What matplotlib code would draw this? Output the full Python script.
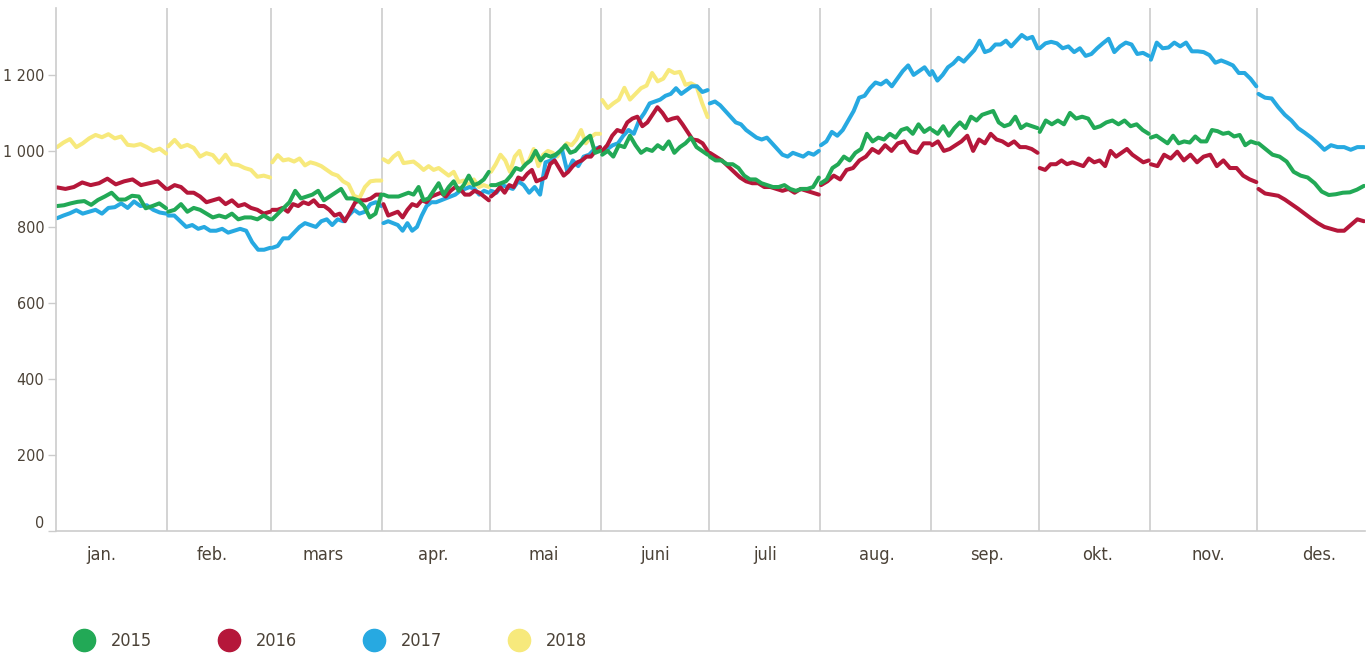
import numpy as np
import matplotlib
matplotlib.use("Agg")
import matplotlib.pyplot as plt
import matplotlib.transforms as mtransforms
from matplotlib.lines import Line2D

plt.rcParams['font.family'] = ['DejaVu Sans']
plt.rcParams['font.stretch'] = 'condensed'

# month labels and days (leap-year calendar, axis cut at day 365)
months = ["jan.", "feb.", "mars", "apr.", "mai", "juni",
          "juli", "aug.", "sep.", "okt.", "nov.", "des."]
days = [31, 29, 31, 30, 31, 30, 31, 31, 30, 31, 30, 31]

years = ["2015", "2016", "2017", "2018"]
colors = ["#22a956", "#b5173a", "#27a9e1", "#f7e97c"]

# values, one list per month
y2015 = [
    [855, 857, 862, 866, 868, 858, 871, 880, 890, 872, 872, 882, 880, 849, 855, 862, 849],
    [840, 845, 860, 840, 850, 845, 835, 825, 830, 825, 835, 820, 825, 825, 820, 830, 820],
    [820, 835, 850, 865, 895, 875, 880, 885, 895, 870, 880, 890, 900, 875, 875, 870, 855, 825, 835, 885],
    [885, 880, 880, 880, 885, 890, 885, 905, 870, 875, 895, 915, 885, 905, 920, 895, 910, 935, 910, 915, 925, 945],
    [910, 910, 915, 920, 935, 955, 950, 965, 975, 1000, 975, 990, 985, 990, 1000, 1015, 995, 1000, 1015, 1030, 1040, 995, 1000],
    [990, 1000, 985, 1015, 1010, 1040, 1015, 995, 1005, 1000, 1015, 1005, 1025, 995, 1010, 1020, 1035, 1010, 1000, 990],
    [985, 975, 975, 965, 965, 955, 935, 925, 925, 915, 910, 905, 905, 910, 900, 895, 900, 900, 905, 930],
    [915, 925, 955, 965, 985, 975, 995, 1005, 1045, 1025, 1035, 1030, 1045, 1035, 1055, 1060, 1045, 1070, 1050, 1060],
    [1055, 1045, 1065, 1040, 1060, 1075, 1060, 1090, 1080, 1095, 1100, 1105, 1075, 1065, 1070, 1090, 1060, 1070, 1065, 1060],
    [1050, 1080, 1070, 1080, 1070, 1100, 1085, 1090, 1085, 1060, 1065, 1075, 1080, 1070, 1080, 1065, 1070, 1055, 1045],
    [1035, 1040, 1030, 1020, 1040, 1020, 1025, 1022, 1038, 1025, 1025, 1055, 1052, 1045, 1048, 1038, 1042, 1015, 1025, 1020],
    [1020, 1005, 990, 985, 972, 945, 935, 930, 915, 893, 884, 886, 890, 891, 898, 908],
]
y2016 = [
    [904, 900, 905, 917, 910, 915, 927, 912, 920, 925, 910, 915, 920, 900],
    [900, 910, 905, 890, 890, 880, 865, 870, 875, 860, 870, 855, 860, 850, 845, 835, 840],
    [845, 845, 850, 840, 860, 855, 865, 860, 870, 855, 855, 845, 830, 835, 815, 840, 865, 870, 870, 875, 885, 885],
    [860, 830, 835, 840, 825, 845, 860, 855, 870, 865, 880, 885, 890, 880, 895, 905, 900, 885, 885, 895, 890, 880, 870],
    [880, 890, 905, 890, 910, 905, 930, 925, 940, 950, 920, 925, 930, 965, 975, 955, 935, 945, 960, 970, 975, 985, 985, 1000, 1010],
    [1000, 1015, 1040, 1055, 1050, 1075, 1085, 1090, 1065, 1075, 1095, 1115, 1100, 1080, 1085, 1088, 1070, 1050, 1030, 1028, 1020, 1000],
    [995, 985, 975, 960, 945, 930, 920, 915, 915, 905, 905, 900, 895, 900, 890, 900, 895, 890, 885],
    [910, 920, 935, 925, 950, 955, 975, 985, 1005, 995, 1015, 1000, 1020, 1025, 1000, 995, 1020, 1020],
    [1015, 1025, 1000, 1005, 1015, 1025, 1040, 1000, 1030, 1020, 1045, 1030, 1025, 1015, 1025, 1010, 1010, 1005, 995],
    [955, 950, 965, 965, 975, 965, 970, 965, 960, 980, 970, 975, 960, 1000, 985, 995, 1005, 990, 980, 970, 975],
    [965, 960, 990, 980, 998, 975, 990, 970, 985, 990, 960, 975, 955, 955, 935, 925, 918],
    [900, 888, 885, 882, 872, 860, 848, 835, 822, 810, 800, 795, 790, 790, 805, 820, 815],
]
y2017 = [
    [823, 830, 836, 844, 835, 840, 845, 835, 850, 852, 862, 850, 867, 855, 857, 845, 838, 835],
    [830, 830, 815, 800, 805, 795, 800, 790, 790, 795, 785, 790, 795, 790, 760, 740, 740, 745],
    [745, 750, 770, 770, 785, 800, 810, 805, 800, 815, 820, 805, 820, 815, 830, 845, 835, 840, 860, 865, 855],
    [810, 815, 810, 805, 790, 810, 790, 800, 830, 855, 865, 865, 870, 875, 880, 885, 895, 900, 905, 900, 885, 895, 890],
    [895, 890, 910, 905, 900, 920, 910, 890, 905, 885, 970, 975, 990, 1005, 945, 975, 960, 985, 990, 1005, 1010],
    [1000, 1005, 1015, 1020, 1040, 1055, 1045, 1080, 1100, 1125, 1130, 1135, 1145, 1150, 1165, 1150, 1160, 1170, 1170, 1155, 1160],
    [1125, 1130, 1120, 1105, 1090, 1075, 1070, 1055, 1045, 1035, 1030, 1035, 1020, 1005, 990, 985, 995, 990, 985, 995, 990, 1000],
    [1015, 1025, 1050, 1040, 1055, 1080, 1105, 1140, 1145, 1165, 1180, 1175, 1185, 1170, 1190, 1210, 1225, 1200, 1210, 1220, 1200],
    [1210, 1185, 1200, 1220, 1230, 1245, 1235, 1250, 1265, 1290, 1260, 1265, 1280, 1280, 1290, 1275, 1290, 1305, 1295, 1300, 1270],
    [1270, 1283, 1287, 1283, 1270, 1275, 1260, 1270, 1250, 1255, 1270, 1283, 1295, 1260, 1275, 1285, 1280, 1255, 1258, 1250],
    [1240, 1285, 1270, 1272, 1285, 1275, 1285, 1262, 1262, 1260, 1252, 1232, 1238, 1232, 1225, 1205, 1205, 1190, 1170],
    [1150, 1140, 1138, 1115, 1095, 1080, 1060, 1048, 1035, 1020, 1003, 1015, 1010, 1010, 1003, 1010, 1010],
]
y2018 = [
    [1010, 1022, 1031, 1010, 1020, 1033, 1042, 1036, 1044, 1033, 1038, 1016, 1014, 1018, 1010, 1000, 1006, 993],
    [1012, 1029, 1010, 1016, 1008, 985, 994, 989, 969, 990, 965, 963, 955, 950, 932, 935, 930],
    [970, 989, 975, 978, 972, 980, 962, 970, 966, 960, 950, 940, 935, 920, 912, 882, 876, 905, 920, 922, 922],
    [978, 970, 985, 995, 968, 970, 972, 962, 950, 960, 950, 955, 945, 935, 945, 918, 922, 911, 925, 905, 910, 905],
    [945, 965, 990, 975, 945, 985, 1000, 960, 975, 1005, 960, 990, 1000, 995, 985, 1005, 1020, 1015, 1030, 1055, 1020, 1035, 1045, 1045],
    [1134, 1113, 1125, 1135, 1166, 1135, 1150, 1165, 1172, 1205, 1183, 1190, 1213, 1205, 1208, 1174, 1178, 1170, 1126, 1089],
]
series = [y2015, y2016, y2017, y2018]

text_col = "#4b4237"
grid_col = "#cccccc"

fig = plt.figure(figsize=(13.71, 6.55), dpi=100)
ax = fig.add_axes([56 / 1371, 1 - 531 / 655, 1309 / 1371, 523 / 655])

starts = np.concatenate([[0], np.cumsum(days)[:-1]])

# draw 2018 first so 2015 ends up on top
for yr, col, data in reversed(list(zip(years, colors, series))):
    for m, vals in enumerate(data):
        end = min(starts[m] + days[m], 365)
        x = np.linspace(starts[m] + 0.3, end - 0.3, len(vals))
        ax.plot(x, vals, color=col, lw=2.9, solid_capstyle='round',
                solid_joinstyle='round')

ax.set_xlim(0, 365)
ax.set_ylim(0, 1376)

# month labels sit roughly evenly spaced, as in the original
label_pos = 12.6 + 30.88 * np.arange(12)
ax.set_xticks(label_pos)
ax.set_xticklabels(months)
ax.set_xticks(starts[1:], minor=True)
ax.grid(True, which='minor', axis='x', color=grid_col, lw=1.2)
ax.tick_params(axis='x', which='both', length=0, pad=11, labelsize=13,
               labelcolor=text_col)

yt = np.arange(0, 1201, 200)
ax.set_yticks(yt)
ax.set_yticklabels([f"{v:,}".replace(",", " ") for v in yt])
ax.tick_params(axis='y', length=6, width=1, color=grid_col, pad=2.5,
               labelsize=11.5, labelcolor=text_col)
# the zero label sits a bit higher in the original
lab0 = ax.get_yticklabels()[0]
lab0.set_transform(lab0.get_transform() +
                   mtransforms.ScaledTranslation(0, 9 / 100, fig.dpi_scale_trans))

for s in ["top", "right"]:
    ax.spines[s].set_visible(False)
for s in ["left", "bottom"]:
    ax.spines[s].set_color(grid_col)
    ax.spines[s].set_linewidth(1.2)

handles = [Line2D([], [], ls='', marker='o', ms=16, mfc=c, mec=c) for c in colors]
fig.legend(handles, years, loc='center left', bbox_to_anchor=(66 / 1371, 1 - 641 / 655),
           ncol=4, frameon=False, fontsize=13, handlelength=1.0, handletextpad=1.0,
           columnspacing=3.75, borderpad=0, labelcolor=text_col)

fig.savefig("out.png", dpi=100)
